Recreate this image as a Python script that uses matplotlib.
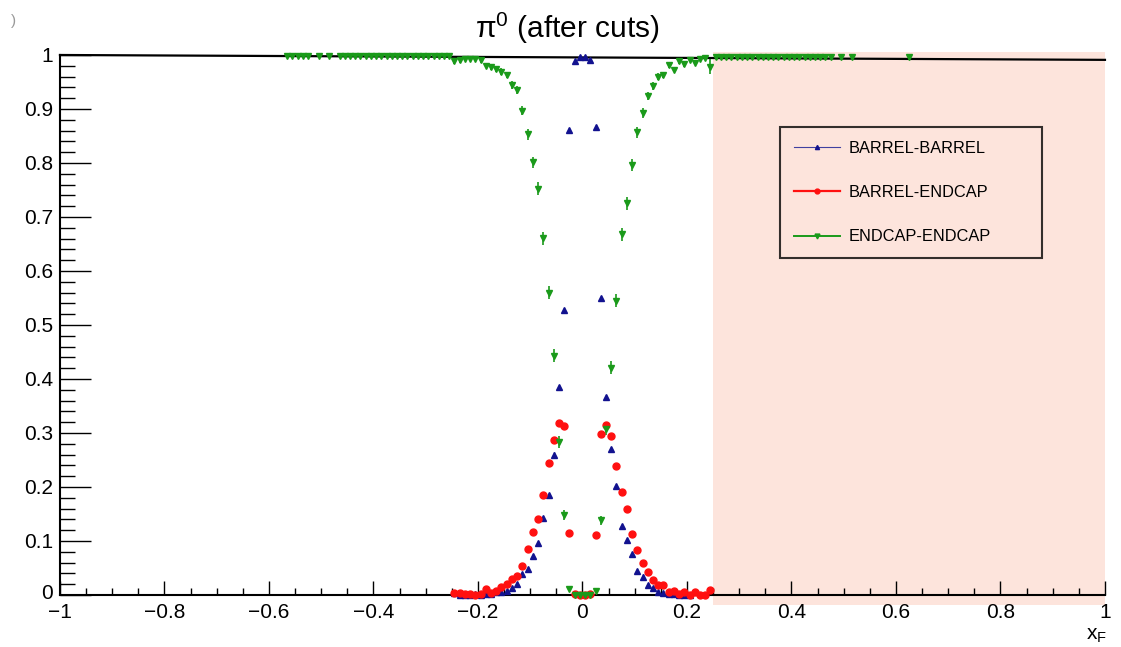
import matplotlib
matplotlib.use("Agg")
import matplotlib.pyplot as plt
from matplotlib.lines import Line2D
from matplotlib.patches import Rectangle
from matplotlib.transforms import ScaledTranslation

plt.rcParams['font.family'] = ['Liberation Sans', 'DejaVu Sans']
plt.rcParams['mathtext.fontset'] = 'custom'
plt.rcParams['mathtext.rm'] = 'Liberation Sans'
plt.rcParams['mathtext.it'] = 'Liberation Sans:italic'

# ---- data (fractions per x_F bin) ----
bb_x = [-0.245, -0.235, -0.225, -0.215, -0.205, -0.195, -0.185, -0.175, -0.165, -0.155,
        -0.145, -0.135, -0.125, -0.115, -0.105, -0.095, -0.085, -0.075, -0.065, -0.055,
        -0.045, -0.035, -0.025, -0.015, -0.005, 0.005, 0.015, 0.025, 0.035, 0.045,
        0.055, 0.065, 0.075, 0.085, 0.095, 0.105, 0.115, 0.125, 0.135, 0.145,
        0.155, 0.165, 0.175, 0.185, 0.195, 0.205]
bb_y = [0.004, 0.0, 0.0, 0.0, 0.001, 0.0, 0.001, 0.002, 0.005, 0.006,
        0.007, 0.013, 0.020, 0.038, 0.048, 0.072, 0.096, 0.142, 0.185, 0.260,
        0.385, 0.527, 0.861, 0.988, 0.996, 0.996, 0.990, 0.866, 0.550, 0.367,
        0.270, 0.201, 0.128, 0.101, 0.075, 0.044, 0.034, 0.019, 0.013, 0.006,
        0.003, 0.002, 0.001, 0.0, 0.0, 0.0]

be_x = [-0.245, -0.235, -0.225, -0.215, -0.205, -0.195, -0.185, -0.175, -0.165, -0.155,
        -0.145, -0.135, -0.125, -0.115, -0.105, -0.095, -0.085, -0.075, -0.065, -0.055,
        -0.045, -0.035, -0.025, -0.015, -0.005, 0.005, 0.015, 0.025, 0.035, 0.045,
        0.055, 0.065, 0.075, 0.085, 0.095, 0.105, 0.115, 0.125, 0.135, 0.145,
        0.155, 0.165, 0.175, 0.185, 0.195, 0.205, 0.215, 0.225, 0.235, 0.245]
be_y = [0.004, 0.003, 0.002, 0.001, 0.0, 0.002, 0.011, 0.003, 0.007, 0.014,
        0.020, 0.030, 0.035, 0.053, 0.086, 0.116, 0.140, 0.186, 0.244, 0.287,
        0.319, 0.313, 0.114, 0.002, 0.0, 0.0, 0.001, 0.111, 0.298, 0.314,
        0.294, 0.239, 0.190, 0.159, 0.113, 0.083, 0.059, 0.042, 0.028, 0.019,
        0.018, 0.006, 0.008, 0.002, 0.006, 0.0, 0.006, 0.0, 0.0, 0.010]

ee_x = [-0.565, -0.555, -0.545, -0.535, -0.525, -0.505, -0.485, -0.465, -0.455, -0.445,
        -0.435, -0.425, -0.415, -0.405, -0.395, -0.385, -0.375, -0.365, -0.355, -0.345,
        -0.335, -0.325, -0.315, -0.305, -0.295, -0.285, -0.275, -0.265, -0.255,
        -0.245, -0.235, -0.225, -0.215, -0.205, -0.195, -0.185, -0.175, -0.165, -0.155,
        -0.145, -0.135, -0.125, -0.115, -0.105, -0.095, -0.085, -0.075, -0.065, -0.055,
        -0.045, -0.035, -0.025, -0.015, -0.005, 0.005, 0.015, 0.025, 0.035, 0.045,
        0.055, 0.065, 0.075, 0.085, 0.095, 0.105, 0.115, 0.125, 0.135, 0.145,
        0.155, 0.165, 0.175, 0.185, 0.195, 0.205, 0.215, 0.225, 0.235, 0.245,
        0.255, 0.265, 0.275, 0.285, 0.295, 0.305, 0.315, 0.325, 0.335, 0.345,
        0.355, 0.365, 0.375, 0.385, 0.395, 0.405, 0.415, 0.425, 0.435, 0.445,
        0.455, 0.465, 0.475, 0.495, 0.515, 0.625]
ee_y = [0.999, 0.999, 0.999, 0.999, 0.999, 0.999, 0.999, 0.999, 0.999, 0.999,
        0.999, 0.999, 0.999, 0.999, 0.999, 0.999, 0.999, 0.999, 0.999, 0.999,
        0.999, 0.999, 0.999, 0.999, 0.999, 0.999, 0.999, 0.999, 0.999,
        0.988, 0.990, 0.993, 0.993, 0.993, 0.990, 0.980, 0.978, 0.974, 0.969,
        0.963, 0.944, 0.935, 0.897, 0.853, 0.801, 0.752, 0.661, 0.560, 0.443,
        0.284, 0.148, 0.012, 0.0, 0.0, 0.0, 0.0, 0.008, 0.138, 0.307,
        0.421, 0.545, 0.668, 0.725, 0.797, 0.857, 0.892, 0.924, 0.943, 0.960,
        0.963, 0.981, 0.973, 0.988, 0.983, 0.991, 0.985, 0.993, 0.995, 0.978,
        0.996, 0.996, 0.996, 0.996, 0.996, 0.996, 0.996, 0.996, 0.996, 0.996,
        0.996, 0.996, 0.996, 0.996, 0.996, 0.996, 0.996, 0.996, 0.996, 0.996,
        0.996, 0.996, 0.996, 0.996, 0.996, 0.996]
ee_err = [0.0, 0.0, 0.0, 0.0, 0.0, 0.0, 0.0, 0.0, 0.0, 0.0,
          0.0, 0.0, 0.0, 0.0, 0.0, 0.0, 0.0, 0.0, 0.0, 0.0,
          0.0, 0.0, 0.0, 0.0, 0.0, 0.0, 0.0, 0.0, 0.0,
          0.004, 0.004, 0.004, 0.004, 0.004, 0.005, 0.005, 0.005, 0.006, 0.006,
          0.006, 0.007, 0.008, 0.009, 0.010, 0.011, 0.012, 0.012, 0.012, 0.012,
          0.011, 0.009, 0.004, 0.0, 0.0, 0.0, 0.0, 0.004, 0.009, 0.011,
          0.012, 0.012, 0.012, 0.012, 0.011, 0.010, 0.009, 0.008, 0.007, 0.006,
          0.006, 0.005, 0.005, 0.005, 0.005, 0.004, 0.004, 0.004, 0.004, 0.014,
          0.0, 0.0, 0.0, 0.0, 0.0, 0.0, 0.0, 0.0, 0.0, 0.0,
          0.0, 0.0, 0.0, 0.0, 0.0, 0.0, 0.0, 0.0, 0.0, 0.0,
          0.0, 0.0, 0.0, 0.0, 0.0, 0.0]

fit_x = [-1.0, 1.0]
fit_y = [1.0, 0.991]
shade_lo, shade_hi = 0.25, 1.0

x_ticks = [-1.0, -0.8, -0.6, -0.4, -0.2, 0.0, 0.2, 0.4, 0.6, 0.8, 1.0]
x_labels = ['\u22121', '\u22120.8', '\u22120.6', '\u22120.4', '\u22120.2',
            '0', '0.2', '0.4', '0.6', '0.8', '1']
x_minor = [-0.95, -0.9, -0.85, -0.75, -0.7, -0.65, -0.55, -0.5, -0.45, -0.35, -0.3, -0.25,
           -0.15, -0.1, -0.05, 0.05, 0.1, 0.15, 0.25, 0.3, 0.35, 0.45, 0.5, 0.55,
           0.65, 0.7, 0.75, 0.85, 0.9, 0.95]
y_ticks = [0.0, 0.1, 0.2, 0.3, 0.4, 0.5, 0.6, 0.7, 0.8, 0.9, 1.0]
y_labels = ['0', '0.1', '0.2', '0.3', '0.4', '0.5', '0.6', '0.7', '0.8', '0.9', '1']
y_minor = [0.02, 0.04, 0.06, 0.08, 0.12, 0.14, 0.16, 0.18, 0.22, 0.24, 0.26, 0.28,
           0.32, 0.34, 0.36, 0.38, 0.42, 0.44, 0.46, 0.48, 0.52, 0.54, 0.56, 0.58,
           0.62, 0.64, 0.66, 0.68, 0.72, 0.74, 0.76, 0.78, 0.82, 0.84, 0.86, 0.88,
           0.92, 0.94, 0.96, 0.98]

blue = '#12128f'
red = '#ff1010'
green = '#1a9a1a'

fig = plt.figure(figsize=(11.21, 6.47), dpi=100)
ax = fig.add_axes([0.0535, 0.0804, 0.9322, 0.8346])

ax.add_patch(Rectangle((shade_lo, -0.0185), shade_hi - shade_lo, 1.024,
                       facecolor='#fde4dc', edgecolor='none', zorder=0, clip_on=False))

ax.errorbar(bb_x, bb_y, yerr=0.004, fmt='^', color=blue, ms=4.5, elinewidth=1,
            capsize=0, clip_on=False, zorder=3)
ax.errorbar(be_x, be_y, yerr=0.004, fmt='o', color=red, ms=5, elinewidth=1,
            capsize=0, clip_on=False, zorder=3)
ax.errorbar(ee_x, ee_y, yerr=ee_err, fmt='v', color=green, ms=5, elinewidth=1.2,
            capsize=0, clip_on=False, zorder=3)
ax.plot(fit_x, fit_y, color='black', lw=1.6, clip_on=False, zorder=2)

ax.set_xlim(-1, 1)
ax.set_ylim(0, 1)
ax.spines['top'].set_visible(False)
ax.spines['right'].set_visible(False)
for s in ['left', 'bottom']:
    ax.spines[s].set_linewidth(1.5)

ax.set_xticks(x_ticks, labels=x_labels)
ax.set_xticks(x_minor, minor=True)
ax.set_yticks(y_ticks, labels=y_labels)
ax.set_yticks(y_minor, minor=True)
ax.tick_params(axis='x', which='major', direction='in', length=10, width=1, labelsize=15, pad=6)
ax.tick_params(axis='x', which='minor', direction='in', length=5, width=1)
ax.tick_params(axis='y', which='major', direction='in', length=22, width=1, labelsize=15, pad=5)
ax.tick_params(axis='y', which='minor', direction='in', length=11, width=1)

# nudge the y "0" label up a little so it does not collide with the x "-1" label
zero_lbl = ax.get_yticklabels()[0]
zero_lbl.set_transform(zero_lbl.get_transform() + ScaledTranslation(0, 3 / 100, fig.dpi_scale_trans))

fig.text(0.506, 0.956, r'$\mathregular{\pi^0}$ (after cuts)', ha='center', va='center', fontsize=21.5)
fig.text(0.978, 0.018, r'$\mathregular{x_F}$', ha='center', va='center', fontsize=15)
fig.text(0.012, 0.968, ')', color='#999999', fontsize=11, ha='center', va='center')

handles = [
    Line2D([], [], color='#4040a0', lw=0.8, marker='^', ms=3, markerfacecolor=blue, markeredgecolor=blue),
    Line2D([], [], color=red, lw=1.6, marker='o', ms=3.5),
    Line2D([], [], color=green, lw=1.4, marker='v', ms=3.5),
]
leg = ax.legend(handles, ['BARREL-BARREL', 'BARREL-ENDCAP', 'ENDCAP-ENDCAP'],
                loc='upper left', bbox_to_anchor=(0.689, 0.6167, 0.2507, 0.25),
                mode='expand', borderaxespad=0,
                fontsize=11.8, frameon=True, fancybox=False, handlelength=2.8,
                handletextpad=0.55, labelspacing=1.78, borderpad=0.85)
leg.get_frame().set_facecolor('none')
leg.get_frame().set_edgecolor('black')
leg.get_frame().set_linewidth(1.5)

fig.savefig('out.png', dpi=100)
